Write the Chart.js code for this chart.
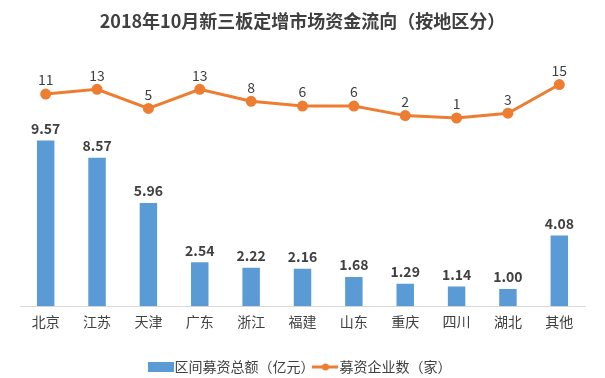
<!DOCTYPE html>
<html>
<head>
<meta charset="utf-8">
<script src="https://cdn.jsdelivr.net/npm/chart.js@4/dist/chart.umd.min.js"></script>
<style>
  html, body { margin: 0; padding: 0; background: #fff; }
  #wrap { width: 605px; height: 378px; }
</style>
</head>
<body>
<div id="wrap"><canvas id="chart1" width="605" height="378"></canvas></div>
<script>
const regions = ['北京', '江苏', '天津', '广东', '浙江', '福建', '山东', '重庆', '四川', '湖北', '其他'];
const amount = [9.57, 8.57, 5.96, 2.54, 2.22, 2.16, 1.68, 1.29, 1.14, 1.00, 4.08];
const companies = [11, 13, 5, 13, 8, 6, 6, 2, 1, 3, 15];

const FONT = "'Noto Sans CJK SC', 'Noto Sans', sans-serif";
const BLUE = '#5B9BD5';
const ORANGE = '#ED7D31';
const TEXT = '#404040';

// legend markers
function barMark() {
  const c = document.createElement('canvas');
  c.width = 26; c.height = 10;
  const g = c.getContext('2d');
  g.fillStyle = BLUE;
  g.fillRect(0, 0, 26, 10);
  return c;
}
function lineMark() {
  const c = document.createElement('canvas');
  c.width = 26; c.height = 10;
  const g = c.getContext('2d');
  g.strokeStyle = ORANGE;
  g.lineWidth = 3;
  g.beginPath(); g.moveTo(0, 5); g.lineTo(26, 5); g.stroke();
  g.fillStyle = ORANGE;
  g.beginPath(); g.arc(13, 5, 3.5, 0, Math.PI * 2); g.fill();
  return c;
}
const marks = { bar: barMark(), line: lineMark() };

// value labels above bars and points
const valueLabels = {
  id: 'valueLabels',
  afterDatasetsDraw(chart) {
    const ctx = chart.ctx;
    ctx.save();
    ctx.textAlign = 'center';
    ctx.textBaseline = 'bottom';
    ctx.fillStyle = TEXT;
    chart.data.datasets.forEach((ds, i) => {
      const meta = chart.getDatasetMeta(i);
      meta.data.forEach((el, j) => {
        if (ds.type === 'line') {
          ctx.font = '14px ' + FONT;
          ctx.fillText(String(ds.data[j]), el.x, el.y - 7);
        } else {
          ctx.font = 'bold 14px ' + FONT;
          ctx.fillText(ds.data[j].toFixed(2), el.x, el.y - 5);
        }
      });
    });
    ctx.restore();
  }
};

const chart1 = new Chart(document.getElementById('chart1'), {
  type: 'bar',
  data: {
    labels: regions,
    datasets: [
      {
        label: '募资企业数（家）',
        type: 'line',
        data: companies,
        borderColor: ORANGE,
        backgroundColor: ORANGE,
        borderWidth: 3,
        pointRadius: 4,
        pointHoverRadius: 4,
        tension: 0,
        yAxisID: 'y2',
        order: 0
      },
      {
        label: '区间募资总额（亿元）',
        data: amount,
        backgroundColor: BLUE,
        barPercentage: 0.34,
        categoryPercentage: 1,
        yAxisID: 'y',
        order: 1
      }
    ]
  },
  options: {
    responsive: false,
    animation: false,
    layout: { padding: { left: 20, right: 20, top: 0, bottom: -6 } },
    plugins: {
      title: {
        display: true,
        text: '2018年10月新三板定增市场资金流向（按地区分）',
        color: TEXT,
        font: { family: FONT, size: 18, weight: 'bold' },
        padding: { top: 10, bottom: 20 }
      },
      legend: {
        position: 'bottom',
        reverse: true,
        labels: {
          usePointStyle: true,
          color: TEXT,
          font: { family: FONT, size: 14 },
          padding: 4,
          generateLabels(chart) {
            const items = Chart.defaults.plugins.legend.labels.generateLabels(chart);
            items.forEach(it => {
              const ds = chart.data.datasets[it.datasetIndex];
              it.pointStyle = ds.type === 'line' ? marks.line : marks.bar;
            });
            return items;
          }
        }
      },
      tooltip: { enabled: false }
    },
    scales: {
      x: {
        grid: { display: false, drawTicks: false },
        border: { color: '#D9D9D9', width: 1 },
        ticks: { color: TEXT, font: { family: FONT, size: 14 }, padding: 7 },
        afterFit(scale) { scale.height += 19; }
      },
      y: {
        display: false,
        min: 0,
        max: 14.7
      },
      y2: {
        display: false,
        min: -77.8,
        max: 28.8
      }
    }
  },
  plugins: [valueLabels]
});
</script>
</body>
</html>
